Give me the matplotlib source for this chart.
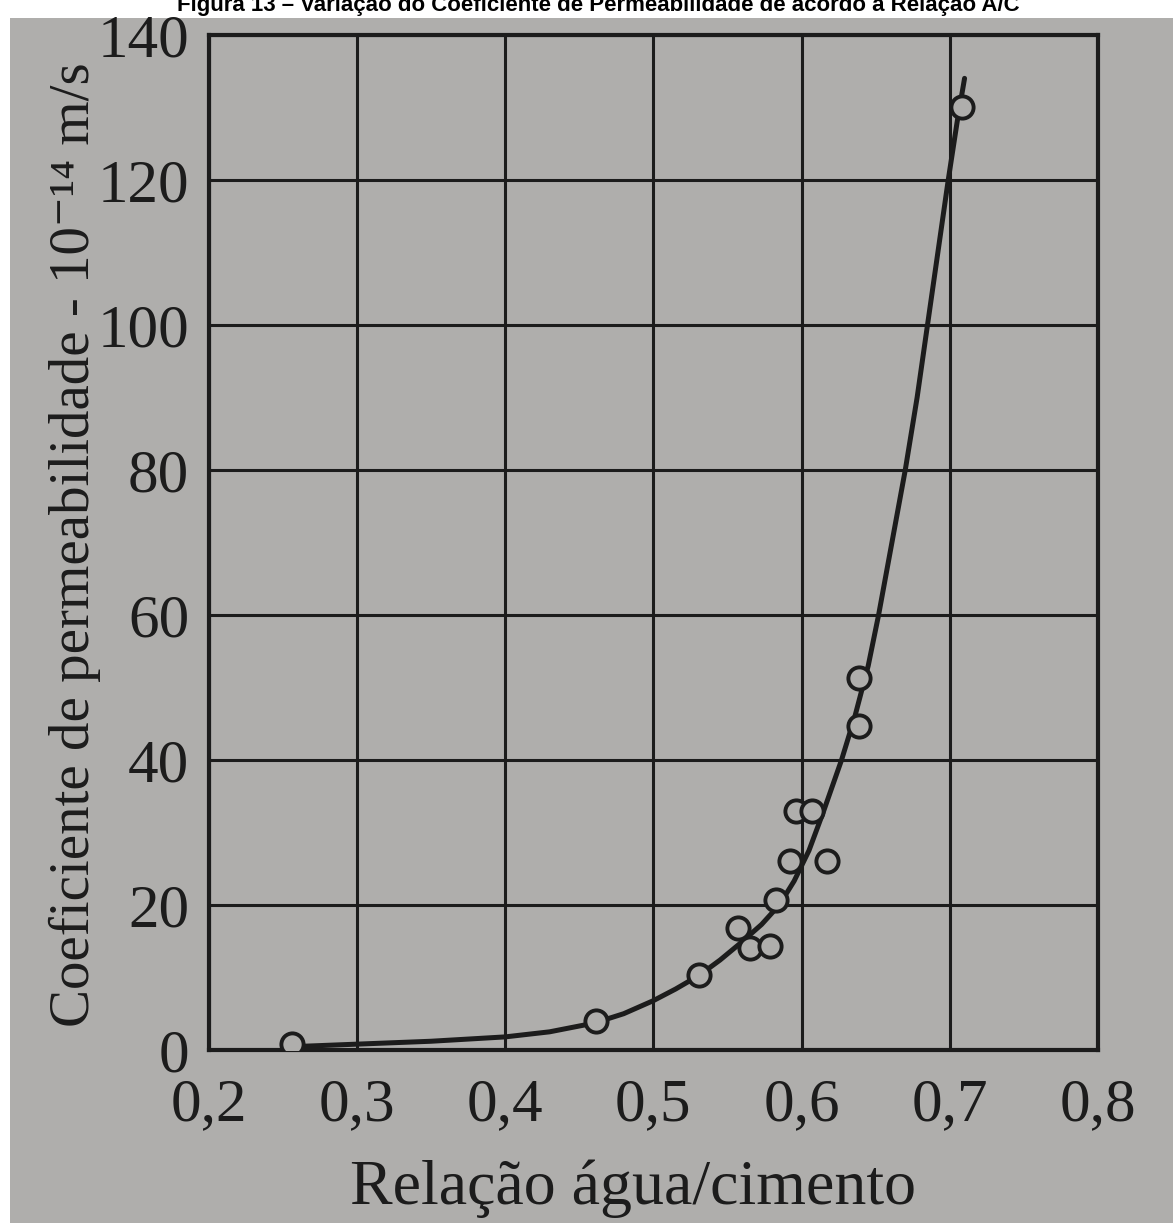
import matplotlib.pyplot as plt
from matplotlib.patches import Rectangle

# measured points (water/cement ratio, permeability 10^-14 m/s)
wc_points = [0.256, 0.461, 0.531, 0.557, 0.565, 0.579, 0.583, 0.592, 0.596, 0.607, 0.617, 0.639, 0.639, 0.708]
perm_points = [0.8, 4.0, 10.4, 16.8, 14.0, 14.3, 20.7, 26.0, 33.0, 33.0, 26.0, 44.7, 51.3, 130.0]

# fitted curve
wc_curve = [0.25, 0.30, 0.35, 0.40, 0.43, 0.46, 0.48, 0.50, 0.515, 0.531, 0.545, 0.558,
            0.573, 0.585, 0.595, 0.605, 0.615, 0.627, 0.636, 0.645, 0.652, 0.661, 0.670,
            0.678, 0.685, 0.692, 0.699, 0.705, 0.710]
perm_curve = [0.4, 0.8, 1.2, 1.8, 2.5, 3.7, 5.0, 6.8, 8.4, 10.3, 12.4, 14.6,
              17.3, 20.0, 23.3, 27.5, 33.0, 40.0, 46.0, 53.0, 60.0, 70.0, 80.0,
              90.0, 100.0, 110.0, 120.0, 128.0, 134.0]

x_ticks = [0.2, 0.3, 0.4, 0.5, 0.6, 0.7, 0.8]
x_labels = ['0,2', '0,3', '0,4', '0,5', '0,6', '0,7', '0,8']
y_ticks = [0, 20, 40, 60, 80, 100, 120, 140]

bg = '#afaeac'
ink = '#1c1c1c'
serif = ['Liberation Serif', 'DejaVu Serif']

fig = plt.figure(figsize=(11.73, 12.23), dpi=100, facecolor='white')
# the photographed page
fig.patches.append(Rectangle((10 / 1173, 0), 1, 1 - 18 / 1223, transform=fig.transFigure,
                             facecolor=bg, edgecolor='none', zorder=-5))

fig.text(0.51, 1 - 6 / 1223, 'Figura 13 – Variação do Coeficiente de Permeabilidade de acordo a Relação A/C',
         ha='center', va='center', fontsize=16, fontweight='bold', family='Liberation Sans', color='black')

ax = fig.add_axes([0.178, 0.1415, 0.758, 0.83])
ax.patch.set_visible(False)

ax.plot(wc_curve, perm_curve, color=ink, lw=3.6, solid_capstyle='round',
        solid_joinstyle='round', zorder=3)
ax.plot(wc_points, perm_points, 'o', ms=16, mfc=bg, mec=ink, mew=2.8, zorder=4)

ax.set_xlim(0.2, 0.8)
ax.set_ylim(0, 140)
ax.set_xticks(x_ticks)
ax.set_xticklabels(x_labels)
ax.set_yticks(y_ticks)
ax.grid(True, color=ink, lw=2.2)
ax.tick_params(length=0, labelsize=44, colors=ink)
ax.tick_params(axis='x', pad=20)
ax.tick_params(axis='y', pad=14)
for lab in ax.get_xticklabels() + ax.get_yticklabels():
    lab.set_family(serif)
for s in ax.spines.values():
    s.set_linewidth(3)
    s.set_color(ink)

fig.text(0.064, 0.555, 'Coeficiente de permeabilidade - 10⁻¹⁴ m/s', rotation=90,
         ha='center', va='center', fontsize=41, family=serif, color=ink)
fig.text(0.54, 0.028, 'Relação água/cimento', ha='center', va='center',
         fontsize=46, family=serif, color=ink)

fig.savefig('out.png', dpi=100, facecolor='white')
